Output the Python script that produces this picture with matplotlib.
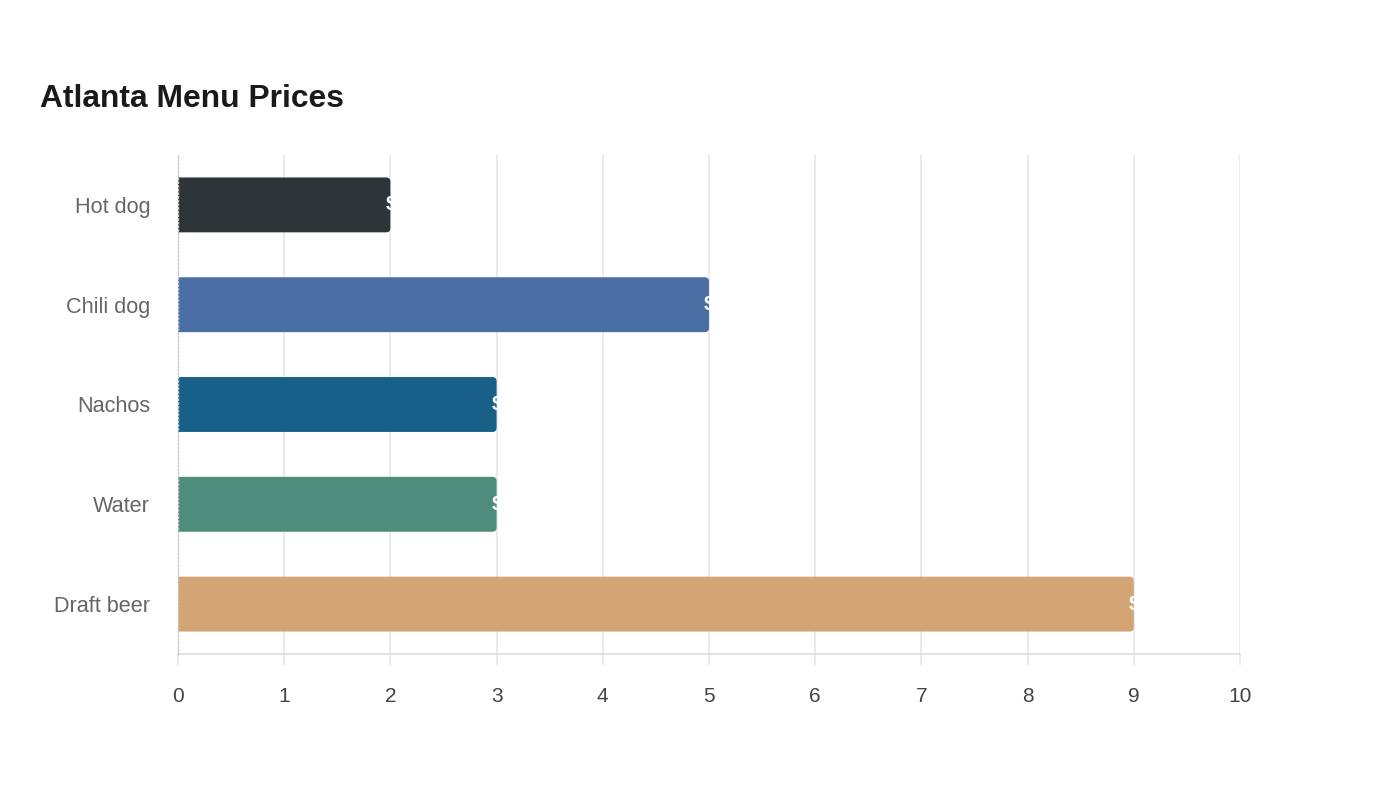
import matplotlib.pyplot as plt
from matplotlib.patches import FancyBboxPatch

plt.rcParams['font.family'] = ['Liberation Sans', 'DejaVu Sans']

items = ["Hot dog", "Chili dog", "Nachos", "Water", "Draft beer"]
prices = [2, 5, 3, 3, 9]
colors = ["#2e3538", "#4a6fa5", "#186088", "#4e8c7b", "#d4a574"]
x_ticks = list(range(0, 11))

fig = plt.figure(figsize=(14, 8), dpi=100)
ax = fig.add_axes([178 / 1400, 1 - 654 / 800, 1062 / 1400, 499 / 800])

bars = ax.barh(items, prices, height=0.55, color=colors)
ax.set_xlim(0, 10)
ax.set_ylim(4.5, -0.5)

# swap the square bars for ones with rounded right corners
# (start a bit left of 0 so the axes clip the left corners square)
for bar, c, p in zip(bars, colors, prices):
    x, y, w, h = bar.get_x(), bar.get_y(), bar.get_width(), bar.get_height()
    bar.set_visible(False)
    rnd = FancyBboxPatch((x - 0.1, y), w + 0.1, h, boxstyle="round,pad=0,rounding_size=0.04",
                         mutation_aspect=1.06, facecolor=c, edgecolor="none", zorder=3)
    ax.add_patch(rnd)
    # value label, clipped by the bar so only the start shows
    t = ax.annotate(f"${p}", (w, y + h / 2), xytext=(-5, 0), textcoords="offset pixels",
                    ha="left", va="center", color="white", fontsize=15,
                    fontweight="bold", zorder=4)
    t.set_clip_path(rnd)

ax.set_xticks(x_ticks)
ax.grid(axis="x", color="#e8e8e8", linewidth=1.2, zorder=0)
ax.grid(axis="y", visible=False)
ax.tick_params(axis="x", length=8, color="#e8e8e8", width=1.2, pad=16,
               labelsize=15, labelcolor="#444444")
ax.tick_params(axis="y", length=0, pad=20, labelsize=15.6, labelcolor="#666666")

for s in ["top", "right"]:
    ax.spines[s].set_visible(False)
ax.spines["left"].set_color("#c8c8c8")
ax.spines["left"].set_linestyle(":")
ax.spines["left"].set_linewidth(1)
ax.spines["left"].set_zorder(5)
ax.spines["bottom"].set_color("#dddddd")
ax.spines["bottom"].set_linewidth(1.2)

fig.text(40 / 1400, 1 - 107 / 800, "Atlanta Menu Prices", fontsize=22.9,
         fontweight="bold", color="#1a1a1a", ha="left", va="baseline")

fig.savefig("out.png", dpi=100, facecolor="white")
